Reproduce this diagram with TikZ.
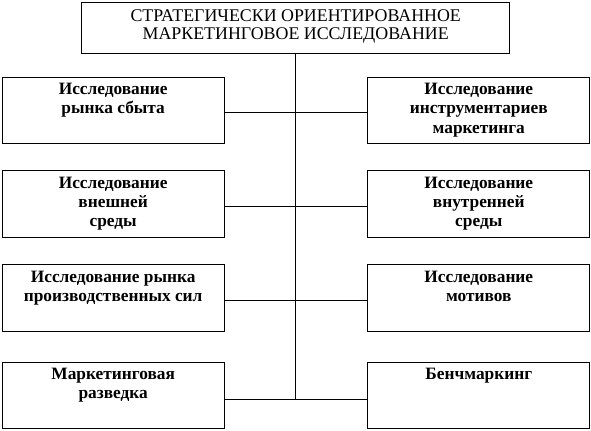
\documentclass[tikz,border=0pt]{standalone}
\usepackage{fontspec}
\setmainfont{Liberation Serif}
\usepackage{tikz}
\usetikzlibrary{positioning}
\tikzset
{
  headnode/.style   = {rectangle, draw=black, minimum width=320.8pt, minimum height=38.5pt, anchor=north west, inner sep=0pt},
  branchnode/.style = {rectangle, draw=black, minimum width=166.4pt, minimum height=50pt, anchor=north west, inner sep=0pt},
  boxtext/.style    = {anchor=north, align=center, inner sep=3pt, yshift=-1.5pt, font=\fontsize{13}{14.5}\selectfont\bfseries},
  headtext/.style   = {anchor=north, align=center, inner sep=3pt, yshift=-2.3pt, font=\fontsize{13.4}{13.8}\selectfont}
}

\begin{document}
\begin{tikzpicture}[x=0.75pt, y=-0.75pt, line width=0.8pt]
  \useasboundingbox (0,0) rectangle (591,430);
  % head of the scheme
  \node [headnode, label={[headtext]north:{СТРАТЕГИЧЕСКИ ОРИЕНТИРОВАННОЕ\\МАРКЕТИНГОВОЕ ИССЛЕДОВАНИЕ}}] (head) at (81.3,2) {};
  % left column
  \node [branchnode, label={[boxtext]north:{Исследование\\рынка сбыта}}] (l1) at (1.7,76.7) {};
  \node [branchnode, label={[boxtext]north:{Исследование\\внешней\\среды}}] (l2) at (1.7,170.4) {};
  \node [branchnode, label={[boxtext]north:{Исследование рынка\\производственных сил}}] (l3) at (1.7,264.4) {};
  \node [branchnode, label={[boxtext]north:{Маркетинговая\\разведка}}] (l4) at (1.7,361.7) {};
  % right column
  \node [branchnode, label={[boxtext]north:{Исследование\\инструментариев\\маркетинга}}] (r1) at (367.3,76.7) {};
  \node [branchnode, label={[boxtext]north:{Исследование\\внутренней\\среды}}] (r2) at (367.3,170.4) {};
  \node [branchnode, label={[boxtext]north:{Исследование\\мотивов}}] (r3) at (367.3,264.4) {};
  \node [branchnode, label={[boxtext]north:{Бенчмаркинг}}] (r4) at (367.3,361.7) {};
  % connectors
  \foreach \i/\d in {1/1.5,2/2,3/1.7,4/3.2}
    \draw ([yshift=-\d pt]l\i.east) -- ([yshift=-\d pt]r\i.west);
  \draw (head.south) -- ([yshift=-3.2pt]head.south |- l4.east);
\end{tikzpicture}
\end{document}
